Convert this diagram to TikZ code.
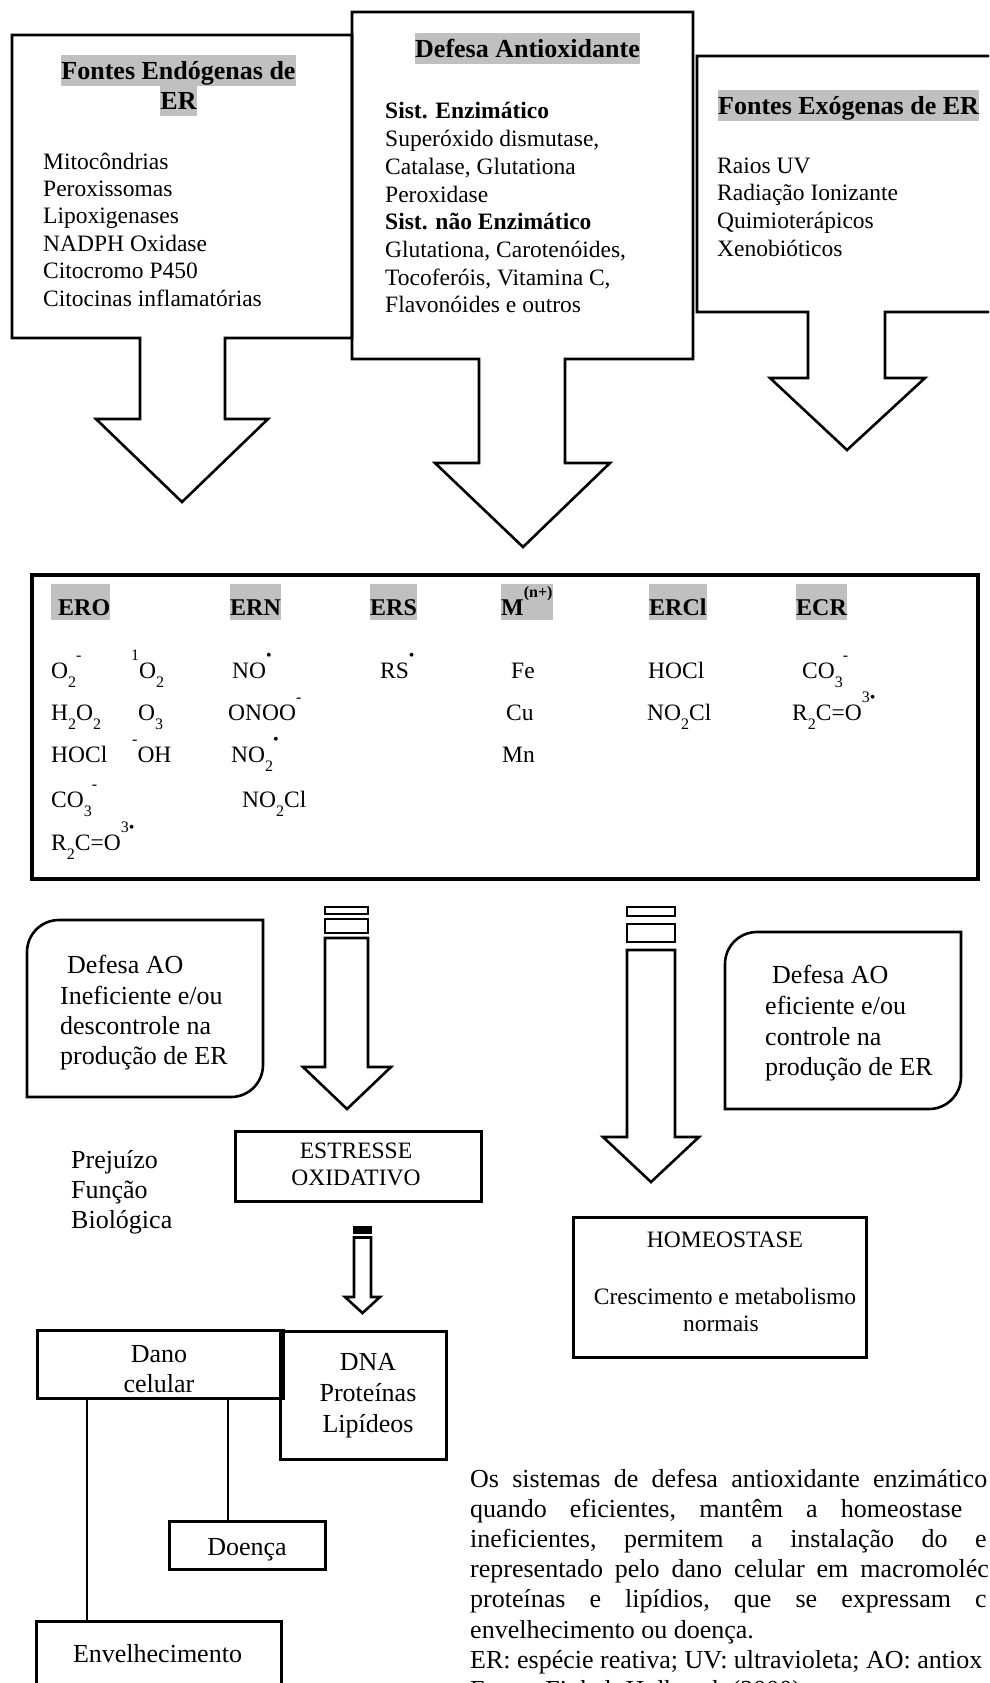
\documentclass[tikz,border=0pt]{standalone}
\usepackage{fontspec}
\setmainfont{Liberation Serif}
\definecolor{hl}{RGB}{192,192,192}
\newcommand{\myfa}{\fontsize{23.5pt}{27pt}\selectfont}
\newcommand{\myfb}{\fontsize{26pt}{30pt}\selectfont}
\newcommand{\myft}{\fontsize{26pt}{29pt}\selectfont\bfseries}
\newcommand{\myfh}{\fontsize{24pt}{27pt}\selectfont\bfseries}
\newcommand{\chup}[1]{\raisebox{18pt}{\fontsize{16pt}{16pt}\selectfont #1}}
\newcommand{\chdn}[1]{\raisebox{-9pt}{\fontsize{16pt}{16pt}\selectfont #1}}
\newcommand{\pgap}[2]{{\spaceskip=#1\relax #2}}
\begin{document}
\begin{tikzpicture}[x=1pt,y=-1pt,line join=miter,
  shapeline/.style={draw,line width=2.6pt},
  plainbox/.style={draw,line width=2.6pt,inner sep=0pt,anchor=north west},
  txt/.style={inner sep=0pt,anchor=base west},
  ctxt/.style={inner sep=0pt,anchor=base},
  hltitle/.style={fill=hl,inner sep=0pt,text height=25pt,text depth=6pt,font=\myft},
  hlhead/.style={fill=hl,inner sep=0pt,text height=31pt,text depth=5pt,anchor=base west,font=\myfh}]
\useasboundingbox (0,0) rectangle (989,1683);
\clip (0,0) rectangle (989,1683);

% ---------- top callouts ----------
\draw[shapeline] (352,12) -- (693,12) -- (693,359) -- (565,359) -- (565,463) -- (610,463) -- (523,547) -- (435,463) -- (479,463) -- (479,359) -- (352,359) -- cycle;
\draw[shapeline] (12,35) -- (352,35) -- (352,338) -- (225,338) -- (225,419) -- (268,419) -- (182,502) -- (96,419) -- (140,419) -- (140,338) -- (12,338) -- cycle;
\draw[shapeline] (697,56) -- (1010,56) -- (1010,312) -- (885,312) -- (885,378) -- (925,378) -- (847,450) -- (770,378) -- (808,378) -- (808,312) -- (697,312) -- cycle;

\node[hltitle,anchor=base] (t1a) at (178.5,80) {Fontes Endógenas de};
\node[hltitle,anchor=base] (t1b) at (178.5,110) {ER};
\foreach \s [count=\i from 0] in {Mitocôndrias,Peroxissomas,Lipoxigenases,NADPH Oxidase,Citocromo P450,Citocinas inflamatórias}
  \node[txt,font=\myfa] (endo\i) at (43,{169+27.4*\i}) {\s};

\node[hltitle,anchor=base] (t2) at (527.5,58) {Defesa Antioxidante};
\foreach \s [count=\i from 0] in {{\textbf{Sist. Enzimático}},{Superóxido dismutase,},{Catalase, Glutationa},Peroxidase,{\textbf{Sist. não Enzimático}},{Glutationa, Carotenóides,},{Tocoferóis, Vitamina C,},{Flavonóides e outros}}
  \node[txt,font=\myfa] (def\i) at (385,{119+27.7*\i}) {\s};

\node[hltitle,anchor=base west] (t3) at (718,115) {Fontes Exógenas de ER};
\foreach \s [count=\i from 0] in {Raios UV,Radiação Ionizante,Quimioterápicos,Xenobióticos}
  \node[txt,font=\myfa] (exo\i) at (717,{173+27.7*\i}) {\s};

% ---------- reactive species box ----------
\node[plainbox,line width=3.5pt,minimum width=946pt,minimum height=304pt] (ros) at (30,573) {};
\node[hlhead] (hero) at (51,615) {\hspace*{7pt}ERO};
\node[hlhead] (hern) at (230,615) {ERN};
\node[hlhead] (hers) at (370,615) {ERS};
\node[hlhead] (hmn) at (501,615) {M\chup{(n+)}};
\node[hlhead] (hercl) at (649,615) {ERCl};
\node[hlhead] (hecr) at (796,615) {ECR};

\begin{scope}[every node/.style={txt,font=\myfa}]
\node (c11) at (51,678) {O\chdn{2}\chup{-}};
\node (c12) at (131,678) {\chup{1}O\chdn{2}};
\node (c13) at (232,678) {NO\chup{•}};
\node (c14) at (380,678) {RS\chup{•}};
\node (c15) at (511,678) {Fe};
\node (c16) at (648,678) {HOCl};
\node (c17) at (802,678) {CO\chdn{3}\chup{-}};
\node (c21) at (51,720) {H\chdn{2}O\chdn{2}};
\node (c22) at (138,720) {O\chdn{3}};
\node (c23) at (228,720) {ONOO\chup{-}};
\node (c24) at (506,720) {Cu};
\node (c25) at (647,720) {NO\chdn{2}Cl};
\node (c26) at (792,720) {R\chdn{2}C=O\chup{3•}};
\node (c31) at (51,762) {HOCl};
\node (c32) at (132,762) {\chup{-}OH};
\node (c33) at (231,762) {NO\chdn{2}\chup{•}};
\node (c34) at (502,762) {Mn};
\node (c41) at (51,807) {CO\chdn{3}\chup{-}};
\node (c42) at (242,807) {NO\chdn{2}Cl};
\node (c51) at (51,850) {R\chdn{2}C=O\chup{3•}};
\end{scope}

% ---------- striped arrows ----------
\draw[shapeline] (325,907) rectangle (368,914);
\draw[shapeline] (325,919) rectangle (368,933);
\draw[shapeline] (325,938) -- (368,938) -- (368,1067) -- (391,1067) -- (347,1109) -- (303,1067) -- (325,1067) -- cycle;

\draw[shapeline] (627,907) rectangle (675,916);
\draw[shapeline] (627,924) rectangle (675,942);
\draw[shapeline] (627,950) -- (675,950) -- (675,1137) -- (699,1137) -- (651,1182) -- (603,1137) -- (627,1137) -- cycle;

\fill (352.7,1226) rectangle (372.3,1233.5);
\draw[shapeline] (354,1237.5) -- (371,1237.5) -- (371,1297) -- (380,1297) -- (362.5,1313) -- (345,1297) -- (354,1297) -- cycle;

% ---------- rounded boxes ----------
\draw[shapeline] (27,1097) -- (27,952) .. controls (27,934.3) and (41.3,920) .. (59,920) -- (263,920) -- (263,1065) .. controls (263,1082.7) and (248.7,1097) .. (231,1097) -- cycle;
\draw[shapeline] (725,1109) -- (725,964) .. controls (725,946.3) and (739.3,932) .. (757,932) -- (961,932) -- (961,1077) .. controls (961,1094.7) and (946.7,1109) .. (929,1109) -- cycle;

\begin{scope}[every node/.style={txt,font=\myfb}]
\node (ina) at (67,973) {Defesa AO};
\node (inb) at (60,1004) {Ineficiente e/ou};
\node (inc) at (60,1034) {descontrole na};
\node (ind) at (60,1064) {produção de ER};
\node (efa) at (772,983) {Defesa AO};
\node (efb) at (765,1014) {eficiente e/ou};
\node (efc) at (765,1045) {controle na};
\node (efd) at (765,1075) {produção de ER};
\node (pja) at (71,1168) {Prejuízo};
\node (pjb) at (71,1198) {Função};
\node (pjc) at (71,1228) {Biológica};
\end{scope}

% ---------- plain boxes ----------
\node[plainbox,minimum width=246pt,minimum height=70pt] (estr) at (234,1130) {};
\node[ctxt,font=\myfa] (estra) at (356,1158) {ESTRESSE};
\node[ctxt,font=\myfa] (estrb) at (356,1185) {OXIDATIVO};

\node[plainbox,minimum width=293pt,minimum height=140pt] (homeo) at (572,1216) {};
\node[ctxt,font=\myfa] (homa) at (725,1247) {HOMEOSTASE};
\node[ctxt,font=\myfa] (homb) at (725,1304) {Crescimento e metabolismo};
\node[ctxt,font=\myfa] (homc) at (721,1331) {normais};

\node[plainbox,minimum width=166pt,minimum height=128pt] (dna) at (279,1330) {};
\node[plainbox,minimum width=246pt,minimum height=68pt] (dano) at (36,1329) {};
\node[plainbox,minimum width=156pt,minimum height=48pt] (doenca) at (168,1520) {};
\node[plainbox,minimum width=245pt,minimum height=120pt] (env) at (35,1620) {};
\begin{scope}[every node/.style={ctxt,font=\myfb}]
\node (danoa) at (159,1362) {Dano};
\node (danob) at (159,1392) {celular};
\node (dnaa) at (368,1370) {DNA};
\node (dnab) at (368,1401) {Proteínas};
\node (dnac) at (368,1432) {Lipídeos};
\node (doe) at (247,1555) {Doença};
\node (envt) at (157.5,1662) {Envelhecimento};
\end{scope}
\coordinate (cA) at (87,0);
\coordinate (cB) at (228,0);
\draw[line width=2.4pt] (dano.south -| cA) -- (env.north -| cA);
\draw[line width=2.4pt] (dano.south -| cB) -- (doenca.north -| cB);

% ---------- caption paragraph ----------
\begin{scope}[every node/.style={txt,font=\myfb}]
\node (p1) at (470,1487) {\pgap{13.3pt}{Os sistemas de defesa antioxidante enzimático}};
\node (p2) at (470,1517.2) {\pgap{23.2pt}{quando eficientes, mantêm a homeostase}};
\node (p3) at (470,1547.4) {\pgap{27.5pt}{ineficientes, permitem a instalação do e}};
\node (p4) at (470,1577.6) {\pgap{11.9pt}{representado pelo dano celular em macromoléc}};
\node (p5) at (470,1607.8) {\pgap{24.1pt}{proteínas e lipídios, que se expressam c}};
\node (p6) at (470,1638) {envelhecimento ou doença.};
\node (p7) at (470,1668.2) {ER: espécie reativa; UV: ultravioleta; AO: antiox};
\node (p8) at (470,1698.4) {Fonte: Finkel; Holbrook (2000)};
\end{scope}
\end{tikzpicture}
\end{document}
